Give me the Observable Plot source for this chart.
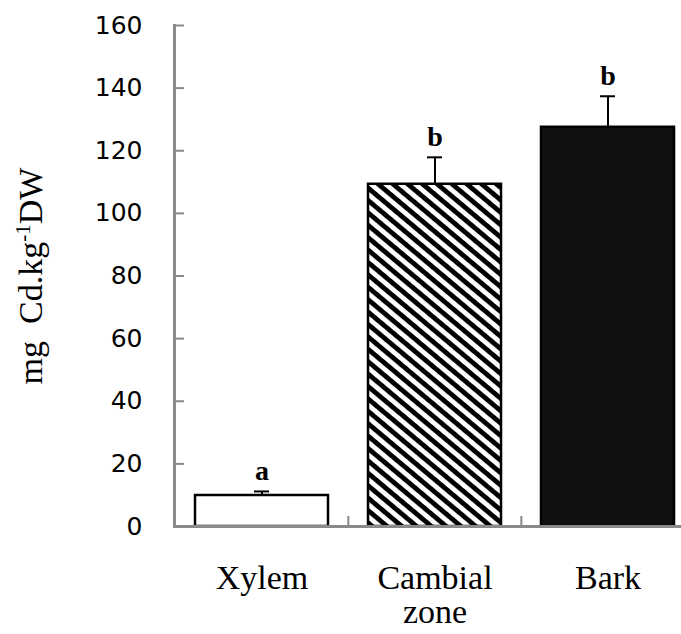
<!DOCTYPE html>
<html>
<head>
<meta charset="utf-8">
<script src="https://cdn.jsdelivr.net/npm/d3@7"></script>
<script src="https://cdn.jsdelivr.net/npm/@observablehq/plot@0.6"></script>
<style>
  html, body { margin: 0; padding: 0; background: #fff; overflow: hidden; }
</style>
</head>
<body>
<div id="chart"></div>
<script>
// ---- data ----
const categories = ["Xylem", "Cambial\nzone", "Bark"];
const means = [9.9, 109.3, 127.5];
const errors = [1.3, 8.6, 9.9];
const letters = ["a", "b", "b"];
const yTicks = [0, 20, 40, 60, 80, 100, 120, 140, 160];
const yLabel = "mg Cd.kg-1DW";

const data = categories.map((c, i) => ({
  cat: c, mean: means[i], top: means[i] + errors[i], letter: letters[i]
}));

// ---- layout ----
const W = 681, H = 634;
const ml = 174, mr = -13, mt = 25, mb = 108;
const step = (W - ml - mr) / categories.length;
const gray = "#8a8a8a";
const capInset = (step * (1 - 0.233) - 15) / 2;

const plot = Plot.plot({
  width: W, height: H,
  marginLeft: ml, marginRight: mr, marginTop: mt, marginBottom: mb,
  x: { domain: categories, paddingInner: 0.233, paddingOuter: 0.1165 },
  y: { domain: [0, 160] },
  marks: [
    Plot.barY(data.slice(0, 1), { x: "cat", y: "mean", fill: "white", stroke: "black", strokeWidth: 2.5 }),
    Plot.barY(data.slice(1, 2), { x: "cat", y: "mean", fill: "url(#hatch)", stroke: "black", strokeWidth: 2.5 }),
    Plot.barY(data.slice(2, 3), { x: "cat", y: "mean", fill: "#111111", stroke: "black", strokeWidth: 2.5 }),
    Plot.ruleX(data, { x: "cat", y1: "mean", y2: "top", stroke: "black", strokeWidth: 2 }),
    Plot.tickY(data, { x: "cat", y: "top", stroke: "black", strokeWidth: 2, insetLeft: capInset, insetRight: capInset }),
    Plot.text(data, { x: "cat", y: "top", text: "letter", dy: -11, lineAnchor: "bottom",
      fontFamily: "Liberation Serif", fontWeight: "bold", fontSize: 28 }),
    Plot.frame({ anchor: "left", stroke: gray, strokeWidth: 3 }),
    Plot.ruleY([0], { stroke: gray, strokeWidth: 3 }),
    Plot.ruleX(categories.slice(1), { x: d => d, dx: -step / 2, y1: 0, y2: 0, insetTop: -10, stroke: gray, strokeWidth: 2 }),
    Plot.axisY({ ticks: yTicks, tickSize: -10, tickPadding: 42, stroke: gray, strokeWidth: 2,
      fontFamily: "DejaVu Sans", fontSize: 25,
      label: yLabel, labelAnchor: "center", labelOffset: 157, labelArrow: "none" }),
    Plot.axisX({ tickSize: 0, tickPadding: 38, fontFamily: "Liberation Serif", fontSize: 34, label: null })
  ]
});

const svg = d3.select(plot);

// hatch pattern definition (appended at the end of the svg)
const pat = svg.append("defs").append("pattern")
  .attr("id", "hatch").attr("patternUnits", "userSpaceOnUse")
  .attr("width", 20).attr("height", 9.5).attr("patternTransform", "rotate(40)");
pat.append("rect").attr("width", 20).attr("height", 9.5).attr("fill", "white");
pat.append("rect").attr("width", 20).attr("height", 4.8).attr("fill", "black");

// y-axis label: serif with a superscript
const lab = svg.select("g[aria-label='y-axis label'] text");
if (!lab.empty()) {
  lab.attr("font-family", "Liberation Serif").attr("font-size", 34);
  lab.text(null);
  lab.append("tspan").text("mg\u00a0 Cd.kg");
  lab.append("tspan").attr("font-size", 21).attr("dy", -12).text("-1");
  lab.append("tspan").attr("dy", 12).text("DW");
}

document.getElementById("chart").appendChild(plot);
</script>
</body>
</html>
